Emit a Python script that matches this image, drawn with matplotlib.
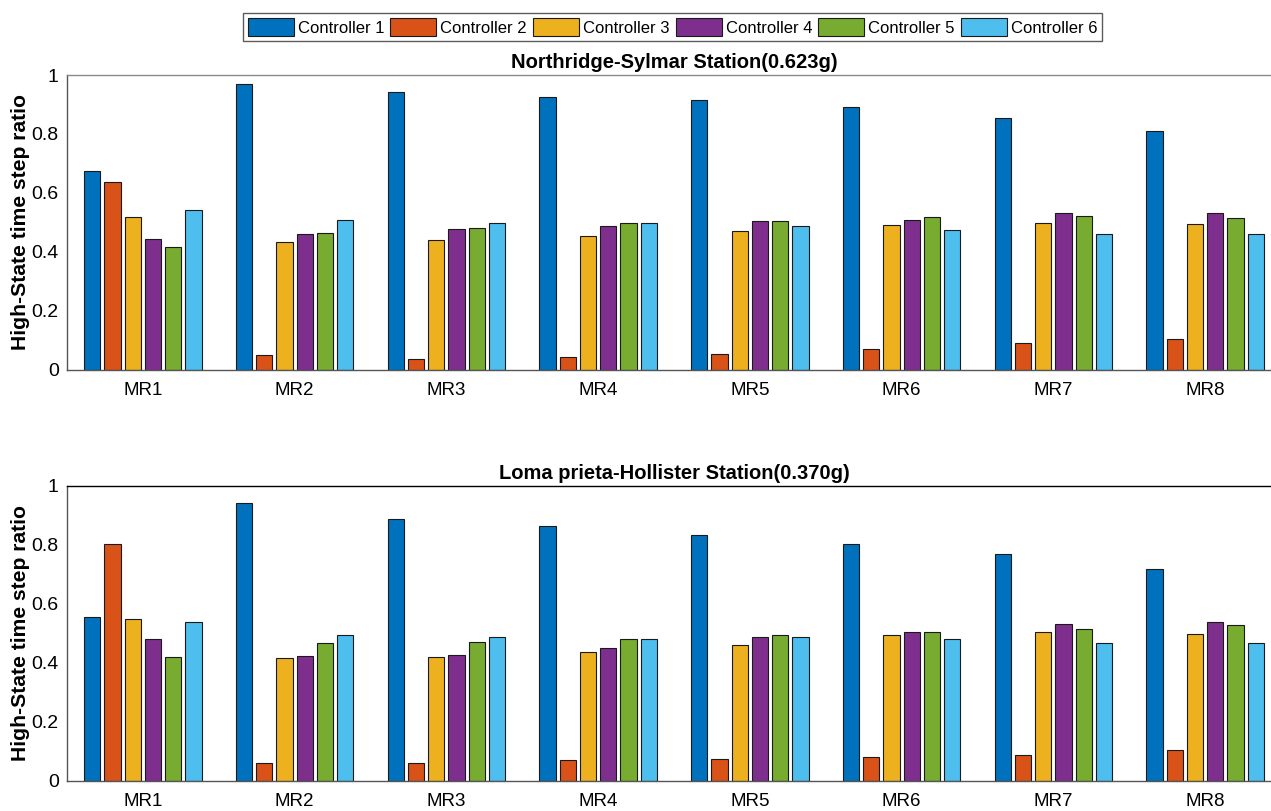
import numpy as np
import matplotlib
matplotlib.use("Agg")
import matplotlib.pyplot as plt
from matplotlib.ticker import FormatStrFormatter

categories = ["MR1", "MR2", "MR3", "MR4", "MR5", "MR6", "MR7", "MR8"]
controllers = ["Controller 1", "Controller 2", "Controller 3",
               "Controller 4", "Controller 5", "Controller 6"]
colors = ["#0072BD", "#D95319", "#EDB120", "#7E2F8E", "#77AC30", "#4DBEEE"]

title_top = "Northridge-Sylmar Station(0.623g)"
title_bottom = "Loma prieta-Hollister Station(0.370g)"
ylabel = "High-State time step ratio"

# Northridge-Sylmar
ns_c1 = [0.674, 0.971, 0.942, 0.926, 0.914, 0.890, 0.854, 0.809]
ns_c2 = [0.635, 0.048, 0.035, 0.043, 0.051, 0.071, 0.091, 0.102]
ns_c3 = [0.519, 0.433, 0.439, 0.455, 0.471, 0.489, 0.499, 0.493]
ns_c4 = [0.444, 0.461, 0.477, 0.487, 0.505, 0.508, 0.532, 0.530]
ns_c5 = [0.416, 0.464, 0.481, 0.496, 0.503, 0.519, 0.522, 0.516]
ns_c6 = [0.541, 0.508, 0.499, 0.496, 0.487, 0.475, 0.461, 0.461]

# Loma prieta-Hollister
lp_c1 = [0.553, 0.942, 0.885, 0.863, 0.832, 0.803, 0.768, 0.716]
lp_c2 = [0.801, 0.061, 0.058, 0.068, 0.073, 0.080, 0.086, 0.103]
lp_c3 = [0.546, 0.416, 0.419, 0.437, 0.460, 0.492, 0.502, 0.495]
lp_c4 = [0.479, 0.423, 0.427, 0.450, 0.485, 0.502, 0.532, 0.536]
lp_c5 = [0.418, 0.467, 0.470, 0.478, 0.492, 0.505, 0.514, 0.527]
lp_c6 = [0.537, 0.492, 0.485, 0.481, 0.485, 0.478, 0.467, 0.467]

ns_series = [ns_c1, ns_c2, ns_c3, ns_c4, ns_c5, ns_c6]
lp_series = [lp_c1, lp_c2, lp_c3, lp_c4, lp_c5, lp_c6]

plt.rcParams["font.family"] = ["Liberation Sans", "DejaVu Sans"]

W, H = 1271, 811
fig = plt.figure(figsize=(W / 100, H / 100), dpi=100)

def px_axes(left, top, right, bottom):
    return fig.add_axes([left / W, 1 - bottom / H, (right - left) / W, (bottom - top) / H])

AX_L, AX_R = 67, 1281
ax_top = px_axes(AX_L, 75, AX_R, 369.5)
ax_bot = px_axes(AX_L, 485.5, AX_R, 780.5)

x = np.arange(1, len(categories) + 1)
step = 0.8 / 6
bw = step * 0.8

def draw(ax, series, title, top_color):
    handles = []
    for i, (vals, c) in enumerate(zip(series, colors)):
        h = ax.bar(x + (i - 2.5) * step, vals, width=bw, color=c,
                   edgecolor="#1a1a1a", linewidth=0.8, label=controllers[i])
        handles.append(h)
    ax.set_xlim(0.5, 8.5)
    ax.set_ylim(0, 1)
    ax.set_xticks(x)
    ax.set_xticklabels(categories)
    ax.set_yticks([0, 0.2, 0.4, 0.6, 0.8, 1.0])
    ax.yaxis.set_major_formatter(FormatStrFormatter("%g"))
    ax.tick_params(axis="x", length=0, pad=9, labelsize=13.5)
    ax.tick_params(axis="y", length=0, pad=6, labelsize=14)
    for s in ["left", "bottom"]:
        ax.spines[s].set_color("#555555")
        ax.spines[s].set_linewidth(1.0)
    ax.spines["top"].set_color(top_color)
    ax.spines["top"].set_linewidth(1.0)
    ax.spines["right"].set_visible(False)
    ax.set_title(title, fontsize=14.5, fontweight="bold", pad=5)
    ax.set_ylabel(ylabel, fontsize=15.2, fontweight="bold")
    ax.yaxis.set_label_coords(-(AX_L - 30) / (AX_R - AX_L), 0.5)
    return handles

handles = draw(ax_top, ns_series, title_top, "#8a8a8a")
draw(ax_bot, lp_series, title_bottom, "#000000")

fs = 12
em = fs * 100 / 72
leg = fig.legend(handles=handles, labels=controllers, loc="center",
                 bbox_to_anchor=(672.5 / W, 1 - 27 / H), ncol=6,
                 fontsize=fs, frameon=True, fancybox=False,
                 handlelength=46 / em, handleheight=20 / em, handletextpad=4 / em,
                 columnspacing=6 / em, borderpad=0.3, borderaxespad=0)
leg.get_frame().set_edgecolor("#333333")
leg.get_frame().set_linewidth(1.0)

fig.savefig("out.png", dpi=100)
